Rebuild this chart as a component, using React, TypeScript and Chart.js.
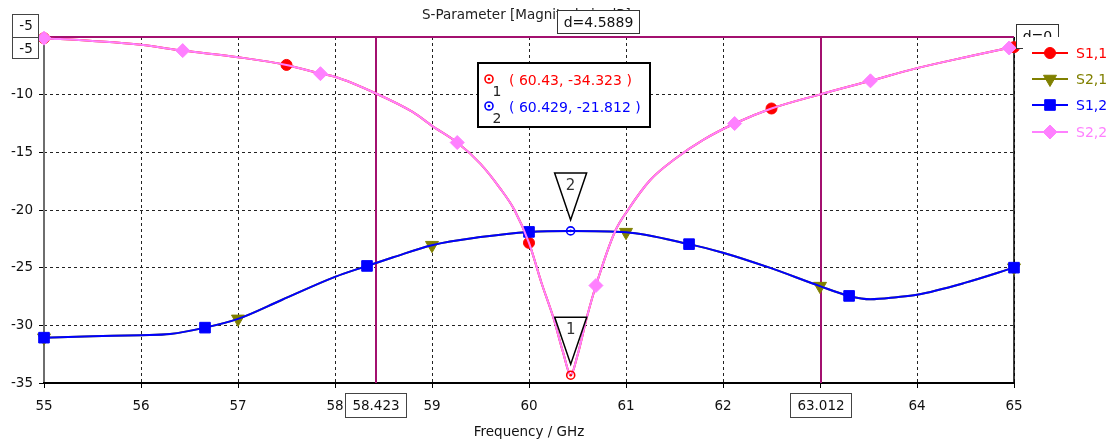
import React, { useEffect, useRef } from "react";
import { Chart, registerables } from "chart.js";

Chart.register(...registerables);

// ---------- data ----------
const freqRefl = [55, 55.5, 56, 56.43, 57, 57.5, 57.85, 58, 58.423, 58.8, 59, 59.26, 59.5, 59.7, 59.85, 60, 60.13, 60.25, 60.35, 60.43, 60.5, 60.6, 60.69, 60.89, 61.02, 61.25, 61.5, 61.8, 62.12, 62.5, 63.012, 63.52, 64, 64.5, 64.95, 65];
const s11 = [-5.1, -5.35, -5.68, -6.18, -6.75, -7.42, -8.18, -8.45, -9.9, -11.5, -12.7, -14.15, -16.0, -18.1, -20.0, -22.85, -26.35, -29.3, -32.3, -34.32, -32.6, -29.2, -26.55, -21.8, -20.0, -17.4, -15.6, -13.9, -12.5, -11.2, -9.95, -8.8, -7.7, -6.75, -5.95, -5.88];
const s22 = [-5.1, -5.35, -5.68, -6.18, -6.75, -7.42, -8.18, -8.45, -9.9, -11.5, -12.7, -14.15, -16.0, -18.1, -20.0, -22.85, -26.35, -29.3, -32.3, -34.32, -32.6, -29.2, -26.55, -21.8, -20.0, -17.4, -15.6, -13.9, -12.5, -11.2, -9.95, -8.8, -7.7, -6.75, -5.95, -5.88];

const freqTrans = [55, 55.5, 56, 56.3, 56.66, 57, 57.45, 58, 58.33, 58.6, 59, 59.5, 60, 60.43, 61, 61.65, 62, 62.48, 63, 63.3, 63.52, 63.79, 64, 64.5, 65];
const s21 = [-31.07, -30.95, -30.85, -30.75, -30.2, -29.44, -27.8, -25.8, -24.85, -24.1, -23.05, -22.35, -21.9, -21.81, -21.92, -22.96, -23.7, -25.0, -26.6, -27.45, -27.74, -27.56, -27.35, -26.3, -25.0];
const s12 = [-31.07, -30.95, -30.85, -30.75, -30.2, -29.44, -27.8, -25.8, -24.85, -24.1, -23.05, -22.35, -21.9, -21.81, -21.92, -22.96, -23.7, -25.0, -26.6, -27.45, -27.74, -27.56, -27.35, -26.3, -25.0];

// frequencies where each series shows its symbol
const markersS11 = [55, 57.5, 60, 62.5, 65];
const markersS21 = [55, 57, 59, 61, 63, 65];
const markersS12 = [55, 56.66, 58.33, 60, 61.65, 63.3, 65];
const markersS22 = [55, 56.43, 57.85, 59.26, 60.69, 62.12, 63.52, 64.95];

const seriesLabels = ["S1,1", "S2,1", "S1,2", "S2,2"];
const xHiddenTicks = [63];
const yHiddenTicks = [-5];
const markerLinesX = [58.423, 63.012];
const markerLineY = -5;
const marker1 = { x: 60.43, y: -34.323, label: "1", text: "( 60.43, -34.323 )" };
const marker2 = { x: 60.429, y: -21.812, label: "2", text: "( 60.429, -21.812 )" };
const deltaText = "d=4.5889";
const deltaText2 = "d=0";
const titleText = "S-Parameter [Magnitude in dB]";
const xTitle = "Frequency / GHz";

const FONT = "'DejaVu Sans', Verdana, sans-serif";
const MAGENTA = "#a3106f";
const TXT = "#111";

const COLORS = ["#ff0000", "#808000", "#0000ff", "#ff80ff"];
const STYLES = ["circle", "triangleDown", "rect", "rectRot"];
const RADII = [5.5, 7.5, 7.5, 7];

function toXY(f: number[], v: number[]) {
  return f.map((x, i) => ({ x, y: v[i] }));
}

function radiusFor(markers: number[], r: number) {
  return (ctx: any) => {
    const raw = ctx.raw;
    if (!raw) return 0;
    return markers.some((m) => Math.abs(m - raw.x) < 1e-6) ? r : 0;
  };
}

function drawShape(ctx: CanvasRenderingContext2D, style: string, x: number, y: number, r: number, color: string) {
  ctx.save();
  ctx.fillStyle = color;
  ctx.strokeStyle = color;
  ctx.lineWidth = 1;
  ctx.beginPath();
  if (style === "circle") {
    ctx.arc(x, y, r, 0, Math.PI * 2);
  } else if (style === "triangleDown") {
    const s = r * Math.sin(Math.PI / 3);
    ctx.moveTo(x, y + r);
    ctx.lineTo(x - s, y - r / 2);
    ctx.lineTo(x + s, y - r / 2);
    ctx.closePath();
  } else if (style === "rect") {
    const h = r * Math.SQRT1_2;
    ctx.rect(x - h, y - h, 2 * h, 2 * h);
  } else {
    ctx.moveTo(x, y - r);
    ctx.lineTo(x + r, y);
    ctx.lineTo(x, y + r);
    ctx.lineTo(x - r, y);
    ctx.closePath();
  }
  ctx.fill();
  ctx.stroke();
  ctx.restore();
}

function drawTarget(ctx: CanvasRenderingContext2D, x: number, y: number, color: string) {
  ctx.save();
  ctx.strokeStyle = color;
  ctx.fillStyle = color;
  ctx.lineWidth = 1.6;
  ctx.beginPath();
  ctx.arc(x, y, 4, 0, Math.PI * 2);
  ctx.stroke();
  ctx.beginPath();
  ctx.arc(x, y, 1.3, 0, Math.PI * 2);
  ctx.fill();
  ctx.restore();
}

function textBox(ctx: CanvasRenderingContext2D, x1: number, y1: number, x2: number, y2: number, text: string, size: number, color = TXT, border = "#333") {
  ctx.save();
  ctx.fillStyle = "#ffffff";
  ctx.fillRect(x1, y1, x2 - x1, y2 - y1);
  ctx.strokeStyle = border;
  ctx.lineWidth = 1;
  ctx.strokeRect(x1 + 0.5, y1 + 0.5, x2 - x1 - 1, y2 - y1 - 1);
  ctx.fillStyle = color;
  ctx.font = `${size}px ${FONT}`;
  ctx.textAlign = "center";
  ctx.textBaseline = "middle";
  ctx.fillText(text, (x1 + x2) / 2, (y1 + y2) / 2 + 1);
  ctx.restore();
}

const framePlugin = {
  id: "frame",
  beforeDatasetsDraw(chart: any) {
    const { ctx, chartArea: a, scales } = chart;
    ctx.save();
    // frame
    ctx.lineWidth = 2;
    ctx.strokeStyle = "#6e6e6e";
    ctx.beginPath();
    ctx.moveTo(a.left, a.top);
    ctx.lineTo(a.left, a.bottom);
    ctx.stroke();
    ctx.strokeStyle = "#000";
    ctx.beginPath();
    ctx.moveTo(a.left - 1, a.bottom);
    ctx.lineTo(a.right + 1, a.bottom);
    ctx.stroke();
    ctx.lineWidth = 1.5;
    ctx.beginPath();
    ctx.moveTo(a.right, a.top);
    ctx.lineTo(a.right, a.bottom);
    ctx.stroke();
    // marker lines
    ctx.strokeStyle = MAGENTA;
    ctx.lineWidth = 2;
    for (const fx of markerLinesX) {
      const px = Math.round(scales.x.getPixelForValue(fx));
      ctx.beginPath();
      ctx.moveTo(px, a.top);
      ctx.lineTo(px, a.bottom);
      ctx.stroke();
    }
    const py = scales.y.getPixelForValue(markerLineY);
    ctx.beginPath();
    ctx.moveTo(a.left, py);
    ctx.lineTo(a.right, py);
    ctx.stroke();
    ctx.restore();
  },
  afterDraw(chart: any) {
    const { ctx, chartArea: a, scales } = chart;
    const xs = scales.x;
    const ys = scales.y;
    ctx.save();

    // title and delta box
    ctx.fillStyle = "#222";
    ctx.font = `13.5px ${FONT}`;
    ctx.textAlign = "left";
    ctx.textBaseline = "middle";
    ctx.fillText(titleText, 422, 15);
    textBox(ctx, 557, 10, 640, 34, deltaText, 14);

    // markers 1 & 2 with triangles
    for (const [m, col] of [[marker1, "#ff0000"], [marker2, "#0000ff"]] as any) {
      const px = xs.getPixelForValue(m.x);
      const py = ys.getPixelForValue(m.y);
      ctx.save();
      ctx.fillStyle = "#fff";
      ctx.strokeStyle = "#000";
      ctx.lineWidth = 1.5;
      ctx.beginPath();
      ctx.moveTo(px - 16, py - 58);
      ctx.lineTo(px + 16, py - 58);
      ctx.lineTo(px, py - 11);
      ctx.closePath();
      ctx.fill();
      ctx.stroke();
      ctx.fillStyle = "#333";
      ctx.font = `15px ${FONT}`;
      ctx.textAlign = "center";
      ctx.textBaseline = "middle";
      ctx.fillText(m.label, px, py - 45);
      ctx.restore();
      drawTarget(ctx, px, py, col);
    }

    // annotation box
    ctx.save();
    ctx.fillStyle = "#fff";
    ctx.fillRect(478, 63, 172, 64);
    ctx.strokeStyle = "#000";
    ctx.lineWidth = 2;
    ctx.strokeRect(478, 63, 172, 64);
    const rows = [[marker1, "#ff0000", 80], [marker2, "#0000ff", 107]] as any;
    for (const [m, col, y] of rows) {
      drawTarget(ctx, 489, y - 1, col);
      ctx.fillStyle = "#222";
      ctx.font = `14px ${FONT}`;
      ctx.textAlign = "center";
      ctx.textBaseline = "middle";
      ctx.fillText(m.label, 497, y + 12);
      ctx.fillStyle = col;
      ctx.textAlign = "left";
      ctx.fillText(m.text, 509, y + 1);
    }
    ctx.restore();

    // left boxed -5 labels
    ctx.save();
    ctx.fillStyle = "#fff";
    ctx.fillRect(12, 14, 27, 45);
    ctx.strokeStyle = "#444";
    ctx.lineWidth = 1;
    ctx.strokeRect(12.5, 14.5, 26, 44);
    ctx.beginPath();
    ctx.moveTo(12, 37.5);
    ctx.lineTo(39, 37.5);
    ctx.stroke();
    ctx.fillStyle = TXT;
    ctx.font = `13.5px ${FONT}`;
    ctx.textAlign = "center";
    ctx.textBaseline = "middle";
    ctx.fillText(String(markerLineY), 26, 26);
    ctx.fillText(String(markerLineY), 26, 49);
    ctx.restore();

    // boxed x marker labels
    for (const fx of markerLinesX) {
      const px = xs.getPixelForValue(fx);
      textBox(ctx, Math.round(px - 31), 393, Math.round(px + 31), 418, fx.toFixed(3), 13.5, TXT, "#444");
    }

    // x axis title
    ctx.fillStyle = TXT;
    ctx.font = `13.5px ${FONT}`;
    ctx.textAlign = "center";
    ctx.textBaseline = "middle";
    ctx.fillText(xTitle, (a.left + a.right) / 2, 432);

    // d=0 box partially hidden by legend
    textBox(ctx, 1016, 24, 1059, 49, deltaText2, 14);
    ctx.fillStyle = "#fff";
    ctx.fillRect(1023, 37, 92, 110);

    // legend
    const rowsY = [53, 79, 105, 132];
    for (let i = 0; i < 4; i++) {
      const y = rowsY[i];
      ctx.strokeStyle = COLORS[i];
      ctx.lineWidth = 2;
      ctx.beginPath();
      ctx.moveTo(1032, y);
      ctx.lineTo(1068, y);
      ctx.stroke();
      drawShape(ctx, STYLES[i], 1050, y, RADII[i], COLORS[i]);
      ctx.fillStyle = COLORS[i];
      ctx.font = `14px ${FONT}`;
      ctx.textAlign = "left";
      ctx.textBaseline = "middle";
      ctx.fillText(seriesLabels[i], 1076, y + 1);
    }
    ctx.restore();
  },
};

export default function App() {
  const ref = useRef<HTMLCanvasElement | null>(null);

  useEffect(() => {
    if (!ref.current) return;
    Chart.defaults.font.family = FONT;
    const common = {
      borderWidth: 2,
      cubicInterpolationMode: "monotone" as const,
      clip: false as any,
      pointBorderWidth: 1,
      pointHoverRadius: 0,
    };
    const chart = new Chart(ref.current, {
      type: "line",
      data: {
        datasets: [
          {
            ...common,
            label: seriesLabels[0],
            data: toXY(freqRefl, s11),
            borderColor: COLORS[0],
            backgroundColor: COLORS[0],
            pointBackgroundColor: COLORS[0],
            pointBorderColor: COLORS[0],
            pointStyle: "circle",
            pointRadius: radiusFor(markersS11, RADII[0]),
            order: 3,
          },
          {
            ...common,
            label: seriesLabels[1],
            data: toXY(freqTrans, s21),
            borderColor: COLORS[1],
            backgroundColor: COLORS[1],
            pointBackgroundColor: COLORS[1],
            pointBorderColor: COLORS[1],
            pointStyle: "triangle",
            pointRotation: 180,
            pointRadius: radiusFor(markersS21, RADII[1]),
            order: 2,
          },
          {
            ...common,
            label: seriesLabels[2],
            data: toXY(freqTrans, s12),
            borderColor: COLORS[2],
            backgroundColor: COLORS[2],
            pointBackgroundColor: COLORS[2],
            pointBorderColor: COLORS[2],
            pointStyle: "rect",
            pointRadius: radiusFor(markersS12, RADII[2]),
            order: 1,
          },
          {
            ...common,
            label: seriesLabels[3],
            data: toXY(freqRefl, s22),
            borderColor: COLORS[3],
            backgroundColor: COLORS[3],
            pointBackgroundColor: COLORS[3],
            pointBorderColor: COLORS[3],
            pointStyle: "rectRot",
            pointRadius: radiusFor(markersS22, RADII[3]),
            order: 0,
          },
        ],
      },
      options: {
        animation: false,
        responsive: true,
        maintainAspectRatio: false,
        events: [],
        layout: { padding: { top: 37, right: 101, left: 0, bottom: 0 } },
        plugins: {
          legend: { display: false },
          tooltip: { enabled: false },
          title: { display: false },
        },
        scales: {
          x: {
            type: "linear",
            min: 55,
            max: 65,
            ticks: {
              stepSize: 1,
              autoSkip: false,
              maxRotation: 0,
              color: TXT,
              font: { size: 13.5, family: FONT },
              padding: 10,
              callback: (v: any) => (xHiddenTicks.includes(Number(v)) ? "" : String(v)),
            },
            grid: {
              color: "#222",
              lineWidth: 1,
              drawTicks: true,
              tickLength: 5,
              tickColor: "#000",
              tickWidth: 1,
              tickBorderDash: [],
            },
            border: { display: false, dash: [3, 3] },
            afterFit: (s: any) => {
              s.height = 64;
            },
          },
          y: {
            type: "linear",
            min: -35,
            max: -5,
            ticks: {
              stepSize: 5,
              color: TXT,
              font: { size: 13.5, family: FONT },
              padding: 6,
              callback: (v: any) => (yHiddenTicks.includes(Number(v)) ? "" : String(v)),
            },
            grid: {
              color: "#222",
              lineWidth: 1,
              drawTicks: true,
              tickLength: 5,
              tickColor: "#000",
              tickWidth: 1,
              tickBorderDash: [],
            },
            border: { display: false, dash: [3, 3] },
            afterFit: (s: any) => {
              s.width = 44;
            },
          },
        },
      },
      plugins: [framePlugin],
    });
    return () => chart.destroy();
  }, []);

  return (
    <div style={{ position: "absolute", left: 0, top: 0, width: 1115, height: 447, background: "#fff" }}>
      <canvas ref={ref} />
    </div>
  );
}
